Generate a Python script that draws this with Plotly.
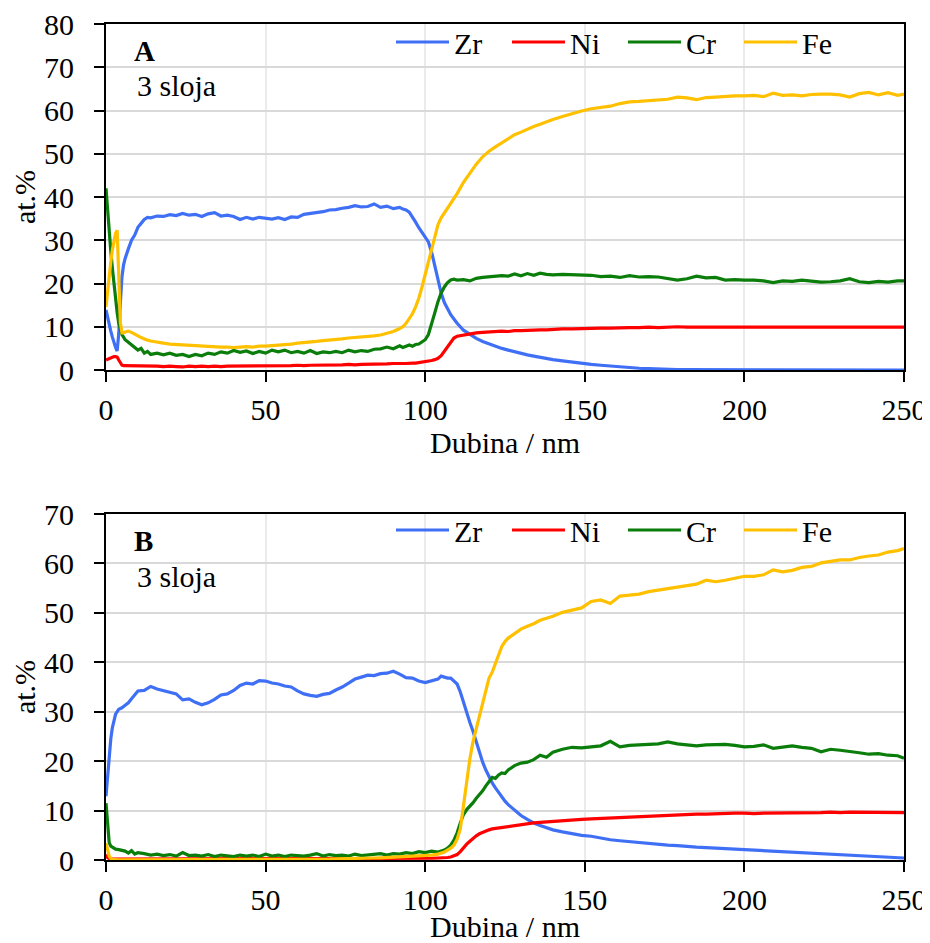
import plotly.graph_objects as go

# ---------------- Panel A data ----------------
x_a = [0, 0.5, 1, 1.5, 2, 2.5, 3, 3.5, 4, 4.5, 5, 5.5, 6,
       7, 8, 9, 10, 11, 12, 13, 14,
       16, 18, 20, 22, 24, 26, 28, 30, 32, 34, 36, 38, 40, 42, 44, 46, 48, 50, 52, 54,
       56, 58, 60, 62, 64, 66, 68, 70, 72, 74, 76, 78, 80, 82, 84, 86, 88, 90, 92,
       93, 94, 95, 96, 97, 98, 99, 100, 101, 102, 103, 104, 105, 106, 107, 108, 109, 110,
       112, 114, 116, 118, 120, 122, 124, 126, 128, 130, 132, 134, 136, 138, 140,
       143, 146, 149, 152, 155, 158, 161, 164, 167, 170, 173, 176, 179, 182, 185, 188,
       191, 194, 197, 200, 203, 206, 209, 212, 215, 218, 221, 224, 227, 230, 233, 236,
       239, 242, 245, 248, 250]

zr_a = [13.9, 12.0, 10.3, 9.0, 7.6, 6.3, 5.2, 4.4, 8.5, 15.5, 21.5, 24.3, 25.8,
        28.0, 30.0, 31.2, 33.0, 33.9, 34.8, 35.3, 35.2,
        35.6, 35.5, 35.9, 35.7, 36.2, 35.8, 36.0, 35.5, 36.1, 36.4, 35.6, 35.8, 35.5, 34.8,
        35.3, 34.9, 35.3, 35.1, 34.9, 35.2, 34.8, 35.4, 35.3, 36.0, 36.2, 36.4, 36.6, 37.0,
        37.1, 37.4, 37.6, 38.0, 37.7, 37.8, 38.4, 37.6, 37.9, 37.3, 37.6,
        37.2, 37.0, 36.5, 35.5, 34.2, 32.9, 31.8, 30.8, 29.6, 27.3, 24.2, 20.8, 17.8, 15.6,
        14.0, 12.8, 11.8, 10.8,
        9.2, 8.2, 7.3, 6.6, 6.0, 5.5, 5.0, 4.6, 4.2, 3.8, 3.5, 3.2, 2.9, 2.6, 2.4,
        2.1, 1.8, 1.6, 1.3, 1.1, 0.9, 0.7, 0.5, 0.4, 0.3, 0.2, 0.15, 0.1, 0.08, 0.05, 0.04,
        0.03, 0.02, 0.02, 0.01, 0.01, 0.01, 0.01, 0.0, 0.0, 0.0, 0.0, 0.0, 0.0, 0.0, 0.0,
        0.0, 0.0, 0.0, 0.0, 0.0, 0.0]

ni_a = [2.3, 2.5, 2.7, 2.9, 3.0, 3.1, 3.1, 3.0, 2.3, 1.5, 1.1, 1.0, 1.0,
        0.9, 1.0, 0.9, 1.0, 0.9, 0.9, 1.0, 0.9,
        0.9, 0.8, 0.9, 0.8, 0.7, 0.9, 0.8, 0.9, 0.8, 0.9, 0.8, 0.9, 0.9, 0.9, 0.9, 1.0,
        0.9, 0.9, 1.0, 0.9, 1.0, 1.0, 1.1, 1.0, 1.1, 1.1, 1.2, 1.1, 1.2, 1.2, 1.3, 1.2,
        1.3, 1.3, 1.4, 1.3, 1.4, 1.5, 1.4,
        1.5, 1.5, 1.6, 1.6, 1.6, 1.7, 1.8, 2.0, 2.1, 2.2, 2.4, 2.7, 3.3, 4.4, 5.5, 6.6,
        7.4, 7.8,
        8.1, 8.4, 8.6, 8.7, 8.8, 8.8, 9.0, 8.9, 9.1, 9.1, 9.2, 9.2, 9.3, 9.3, 9.4,
        9.5, 9.5, 9.6, 9.6, 9.7, 9.7, 9.8, 9.8, 9.8, 9.9, 9.8, 9.9, 10.0, 9.9, 9.9, 9.8,
        9.9, 9.9, 9.9, 9.9, 9.9, 9.8, 9.9, 9.9, 9.8, 9.9, 9.9, 9.9, 9.9, 9.9, 9.9, 9.9,
        9.9, 9.9, 9.9, 9.9, 9.9]

cr_a = [42.0, 36.5, 31.5, 27.5, 23.5, 19.5, 16.0, 13.2, 10.8, 9.2, 8.2, 7.6, 7.0,
        6.4, 5.8, 5.2, 4.6, 5.0, 3.9, 4.3, 3.6,
        3.9, 3.5, 3.9, 3.4, 3.6, 3.1, 3.6, 3.3, 3.9, 3.6, 4.2, 3.9, 4.5, 4.1, 4.4, 3.8,
        4.3, 3.9, 4.6, 4.2, 4.6, 4.0, 4.3, 3.9, 4.5, 3.8, 4.2, 4.0, 4.3, 4.0, 4.6, 4.2,
        4.5, 4.3, 4.8, 4.9, 5.3, 4.9, 5.6,
        5.2, 5.5, 5.8, 5.5, 5.9, 6.0, 6.5, 7.0, 8.2, 10.5, 13.2, 15.8, 17.8, 19.2, 20.2,
        20.8, 21.0, 20.8,
        20.9, 20.6, 21.2, 21.4, 21.5, 21.6, 21.8, 21.7, 22.2, 21.8, 22.3, 21.9, 22.4, 22.1, 22.0,
        22.1, 22.0, 21.9, 21.9, 21.6, 21.7, 21.4, 21.8, 21.5, 21.6, 21.5, 21.2, 20.8, 21.1,
        21.7, 21.3, 21.4, 20.8, 20.9, 20.8, 20.8, 20.6, 20.2, 20.6, 20.5, 20.8, 20.5, 20.3,
        20.4, 20.6, 21.1, 20.4, 20.2, 20.5, 20.3, 20.6, 20.6]

fe_a = [14.6, 18.5, 22.0, 25.0, 27.8, 30.0, 31.6, 32.3, 23.0, 11.0, 8.6, 8.6, 8.8,
        9.0, 8.7, 8.4, 7.9, 7.5, 7.1, 6.9, 6.7,
        6.4, 6.2, 6.0, 5.9, 5.8, 5.8, 5.7, 5.6, 5.5, 5.4, 5.3, 5.3, 5.2, 5.3, 5.4, 5.3,
        5.5, 5.5, 5.6, 5.7, 5.8, 6.0, 6.2, 6.3, 6.5, 6.6, 6.8, 6.9, 7.0, 7.2, 7.4, 7.5,
        7.6, 7.8, 7.9, 8.1, 8.5, 8.9, 9.6,
        10.0, 10.8, 11.8, 13.0, 14.6, 16.6, 19.2, 22.0, 24.6, 27.6, 30.8, 33.6, 35.2, 36.3,
        37.3, 38.3, 39.5, 40.8,
        43.4, 45.6, 47.6, 49.3, 50.6, 51.6, 52.6, 53.6, 54.4, 55.0, 55.7, 56.3, 56.8, 57.4, 57.9,
        58.6, 59.3, 59.9, 60.4, 60.7, 61.0, 61.6, 62.0, 62.1, 62.3, 62.4, 62.6, 63.1, 62.9,
        62.5, 63.0, 63.1, 63.3, 63.4, 63.4, 63.5, 63.2, 64.0, 63.5, 63.6, 63.4, 63.7, 63.8,
        63.8, 63.6, 63.1, 63.9, 64.2, 63.6, 64.1, 63.5, 63.8]

# ---------------- Panel B data ----------------
x_b = [0, 0.5, 1, 1.5, 2, 2.5, 3, 4, 5, 6, 7, 8, 9, 10,
       12, 14, 16, 18, 20, 22, 24, 26, 28, 30, 32, 34, 36, 38, 40, 42, 44, 46, 48, 50,
       52, 54, 56, 58, 60, 62, 64, 66, 68, 70, 72, 74, 76, 78, 80, 82, 84, 86, 88, 90,
       92, 94, 96, 98, 100, 102, 104,
       105, 106, 107, 108, 109, 110, 111, 112, 113, 114, 115, 116, 117, 118, 119, 120,
       121, 122, 123, 124, 125, 126,
       128, 130, 132, 134, 136, 138, 140,
       143, 146, 149, 152, 155, 158, 161, 164, 167, 170, 173, 176, 179, 182, 185, 188,
       191, 194, 197, 200, 203, 206, 209, 212, 215, 218, 221, 224, 227, 230, 233, 236,
       239, 242, 245, 248, 250]

zr_b = [12.9, 17.0, 21.0, 24.5, 26.8, 28.0, 29.5, 30.5, 30.8, 31.3, 31.8, 32.6, 33.5, 34.2,
        34.3, 35.1, 34.6, 34.3, 34.0, 33.6, 32.4, 32.6, 31.9, 31.4, 31.8, 32.5, 33.4, 33.6,
        34.3, 35.3, 35.8, 35.6, 36.3, 36.2, 35.8, 35.6, 35.2, 35.0, 34.2, 33.6, 33.3, 33.1,
        33.5, 33.7, 34.4, 35.0, 35.8, 36.6, 37.0, 37.4, 37.3, 37.7, 37.8, 38.2, 37.6, 36.9,
        36.8, 36.2, 35.9, 36.3, 36.6,
        37.2, 37.0, 36.8, 36.8, 36.2, 35.6, 34.0, 31.8, 29.5, 27.8, 26.0, 23.8, 21.6, 19.8,
        18.2, 16.8, 15.6, 14.6, 13.6, 12.7, 11.9, 11.2,
        10.0, 9.0, 8.2, 7.5, 7.0, 6.5, 6.1,
        5.7, 5.3, 5.0, 4.8, 4.4, 4.1, 3.9, 3.7, 3.5, 3.3, 3.1, 3.0, 2.9, 2.7, 2.6, 2.5,
        2.4, 2.3, 2.2, 2.1, 2.0, 1.9, 1.8, 1.7, 1.6, 1.5, 1.4, 1.3, 1.2, 1.1, 1.0, 0.9,
        0.8, 0.7, 0.6, 0.5, 0.4]

ni_b = [1.1, 0.5, 0.3, 0.2, 0.2, 0.2, 0.2, 0.2, 0.2, 0.2, 0.2, 0.2, 0.2, 0.2,
        0.2, 0.2, 0.2, 0.2, 0.2, 0.2, 0.2, 0.2, 0.2, 0.2, 0.2, 0.2, 0.2, 0.2, 0.2, 0.2,
        0.2, 0.2, 0.2, 0.2, 0.2, 0.2, 0.2, 0.2, 0.2, 0.2, 0.2, 0.2, 0.2, 0.2, 0.2, 0.2,
        0.2, 0.2, 0.2, 0.2, 0.2, 0.2, 0.2, 0.2, 0.25, 0.3, 0.3, 0.3, 0.3, 0.35, 0.4,
        0.4, 0.5, 0.5, 0.6, 0.8, 1.1, 1.7, 2.5, 3.2, 3.8, 4.4, 4.9, 5.3, 5.6, 5.9, 6.1,
        6.3, 6.4, 6.5, 6.6, 6.7, 6.8,
        7.0, 7.2, 7.3, 7.5, 7.6, 7.7, 7.9,
        8.0, 8.1, 8.2, 8.3, 8.4, 8.5, 8.6, 8.6, 8.7, 8.8, 8.9, 9.0, 9.1, 9.2, 9.3, 9.3,
        9.4, 9.4, 9.5, 9.5, 9.4, 9.5, 9.5, 9.6, 9.5, 9.5, 9.6, 9.6, 9.7, 9.6, 9.7, 9.7,
        9.7, 9.6, 9.7, 9.7, 9.6]

cr_b = [11.5, 7.0, 3.5, 2.8, 2.6, 2.4, 2.2, 2.1, 2.0, 1.8, 1.4, 1.9, 1.2, 1.5,
        1.3, 1.0, 1.2, 0.9, 1.1, 0.8, 1.5, 0.9, 1.0, 0.8, 1.1, 0.7, 1.0, 0.9, 0.7, 1.0,
        0.8, 1.0, 0.7, 1.2, 0.8, 1.0, 0.7, 1.0, 0.9, 0.8, 1.0, 1.3, 0.8, 1.1, 0.9, 1.0,
        0.8, 1.2, 0.9, 1.0, 1.1, 1.3, 1.0, 1.3, 1.2, 1.5, 1.3, 1.7, 1.5, 1.8, 1.6,
        1.8, 2.0, 2.4, 3.0, 4.0, 5.5, 7.5, 9.2, 10.2, 10.8, 11.6, 12.5, 13.2, 14.0, 15.0,
        15.8, 16.7, 16.5, 17.2, 17.6, 17.5, 18.2,
        19.1, 19.6, 19.8, 20.3, 21.2, 20.8, 21.8,
        22.4, 22.8, 22.7, 22.9, 23.1, 24.0, 22.9, 23.2, 23.3, 23.4, 23.5, 23.9, 23.5, 23.3,
        23.1, 23.3, 23.4, 23.4, 23.2, 22.9, 23.0, 23.3, 22.6, 22.9, 23.1, 22.8, 22.6, 21.9,
        22.4, 22.2, 22.0, 21.7, 21.4, 21.5, 21.2, 21.1, 20.6]

fe_b = [3.4, 2.0, 0.8, 0.3, 0.1, 0.1, 0.05, 0.05, 0.05, 0.05, 0.05, 0.05, 0.05, 0.05,
        0.05, 0.05, 0.05, 0.05, 0.05, 0.05, 0.05, 0.05, 0.05, 0.05, 0.05, 0.05, 0.05, 0.05,
        0.05, 0.05, 0.05, 0.05, 0.05, 0.1, 0.1, 0.1, 0.1, 0.1, 0.1, 0.15, 0.15, 0.2, 0.2,
        0.2, 0.25, 0.25, 0.3, 0.3, 0.35, 0.4, 0.4, 0.45, 0.5, 0.55, 0.6, 0.65, 0.7, 0.8,
        0.9, 1.0, 1.2,
        1.4, 1.6, 2.0, 2.4, 3.0, 4.2, 6.3, 11.0, 16.0, 20.5, 24.0, 26.6, 29.0, 31.8, 34.8,
        36.8, 38.0, 39.8, 41.6, 43.2, 44.2, 44.9,
        45.8, 46.7, 47.3, 47.8, 48.5, 48.9, 49.3,
        50.1, 50.6, 51.0, 52.3, 52.6, 51.9, 53.4, 53.6, 53.8, 54.3, 54.6, 54.9, 55.2, 55.5,
        55.8, 56.6, 56.3, 56.6, 57.0, 57.4, 57.4, 57.7, 58.7, 58.3, 58.6, 59.2, 59.4, 60.1,
        60.4, 60.7, 60.7, 61.2, 61.5, 61.7, 62.3, 62.6, 63.0]

series_names = ["Zr", "Ni", "Cr", "Fe"]
series_colors = ["#3f6ff5", "#ff0000", "#0a7d0a", "#ffc000"]
panel_labels = ["A", "B"]
layer_label = "3 sloja"
x_ticks = [0, 50, 100, 150, 200, 250]

for arr in (zr_a, ni_a, cr_a, fe_a):
    assert len(arr) == len(x_a), len(arr)
for arr in (zr_b, ni_b, cr_b, fe_b):
    assert len(arr) == len(x_b), len(arr)

FONT = "Liberation Serif"
# the page body has an 8px margin, so the figure is drawn 8px in from the window edge
OFF = 8
W, H = 930 - OFF, 943 - OFF

def fx(px):
    return (px - OFF) / W

def fy(py):
    return 1 - (py - OFF) / H

fig = go.Figure()
panels = [
    (x_a, [zr_a, ni_a, cr_a, fe_a], "x", "y", "legend"),
    (x_b, [zr_b, ni_b, cr_b, fe_b], "x2", "y2", "legend2"),
]
for xs, ys, xa, ya, lg in panels:
    for name, col, vals in zip(series_names, series_colors, ys):
        fig.add_trace(go.Scatter(
            x=xs, y=vals, name=name, mode="lines",
            line=dict(color=col, width=3.2),
            xaxis=xa, yaxis=ya, legend=lg, showlegend=True,
        ))

axis_common = dict(
    showline=True, linecolor="black", linewidth=2, mirror=True,
    ticks="outside", ticklen=10, tickwidth=2, tickcolor="black",
    zeroline=False, automargin=False, ticklabeloverflow="allow",
    tickfont=dict(family=FONT, size=30, color="black"),
)

xdom = [fx(106), fx(904)]
leg_common = dict(orientation="h", xanchor="left", yanchor="middle",
                  bgcolor="rgba(0,0,0,0)", borderwidth=0,
                  font=dict(family=FONT, size=30, color="black"),
                  entrywidth=48, entrywidthmode="pixels", itemwidth=53)
xtitle = dict(text="Dubina / nm", font=dict(family=FONT, size=30), standoff=0)
ytitle = dict(text="at.%", font=dict(family=FONT, size=30), standoff=12)
fig.update_layout(
    template="none",
    width=W, height=H,
    margin=dict(l=0, r=0, t=0, b=0, pad=0, autoexpand=False),
    paper_bgcolor="white", plot_bgcolor="white",
    font=dict(family=FONT, size=30, color="black"),
    xaxis=dict(domain=xdom, anchor="y", range=[0, 250], tickvals=x_ticks,
               showgrid=True, gridcolor="#ebebeb", gridwidth=2,
               title=xtitle, ticklabelstandoff=2, **axis_common),
    yaxis=dict(domain=[fy(370), fy(24)], anchor="x", range=[0, 80], dtick=10,
               showgrid=True, gridcolor="#d9d9d9", gridwidth=2,
               title=ytitle, ticklabelstandoff=14, **axis_common),
    xaxis2=dict(domain=xdom, anchor="y2", range=[0, 250], tickvals=x_ticks,
                showgrid=True, gridcolor="#ebebeb", gridwidth=2,
                title=xtitle, ticklabelstandoff=2, **axis_common),
    yaxis2=dict(domain=[fy(860), fy(514)], anchor="x2", range=[0, 70], dtick=10,
                showgrid=True, gridcolor="#d9d9d9", gridwidth=2,
                title=ytitle, ticklabelstandoff=14, **axis_common),
    legend=dict(x=fx(391), y=fy(42), **leg_common),
    legend2=dict(x=fx(391), y=fy(530), **leg_common),
)

annots = []
for lab, y_lab, y_txt in [(panel_labels[0], 51, 88), (panel_labels[1], 541, 578)]:
    annots.append(dict(text="<b>" + lab + "</b>", x=fx(132), y=fy(y_lab), xref="paper", yref="paper",
                       xanchor="left", yanchor="middle", showarrow=False,
                       font=dict(family=FONT, size=29, color="black")))
    annots.append(dict(text=layer_label, x=fx(135), y=fy(y_txt - 2), xref="paper", yref="paper",
                       xanchor="left", yanchor="middle", showarrow=False,
                       font=dict(family=FONT, size=30, color="black")))
fig.update_layout(annotations=annots)

fig.write_html("out.html")
